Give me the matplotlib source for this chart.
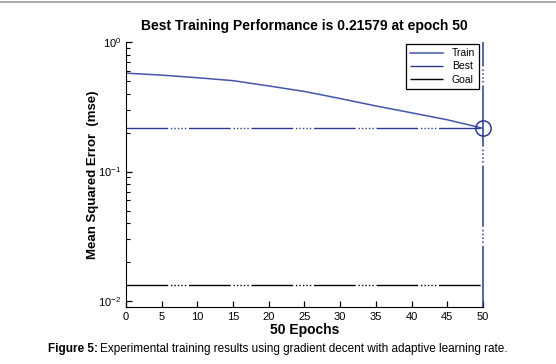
import matplotlib
matplotlib.use("Agg")
import matplotlib.pyplot as plt
from matplotlib.ticker import LogLocator, NullFormatter

plt.rcParams['font.family'] = ['Liberation Sans', 'DejaVu Sans']

# data
epochs = [0, 5, 10, 15, 20, 25, 30, 35, 40, 45, 50]
train_mse = [0.575, 0.555, 0.530, 0.503, 0.458, 0.415, 0.366, 0.321, 0.284, 0.251, 0.21579]
best_epoch = 50
best_mse = 0.21579
goal_mse = 0.0133
xticks = [0, 5, 10, 15, 20, 25, 30, 35, 40, 45, 50]

train_col = "#4456a8"
best_col = "#2b3990"
dashdot = (0, (30, 2, 1, 1.5, 1, 1.5, 1, 1.5, 1, 1.5, 1, 2))

fig = plt.figure(figsize=(5.56, 3.64), dpi=100)
ax = fig.add_axes([0.2266, 0.1566, 0.642, 0.728])

ax.semilogy(epochs, train_mse, color=train_col, lw=1.1, label="Train")
ax.axhline(best_mse, color=best_col, lw=1.0, ls=dashdot, label="Best")
ax.axhline(goal_mse, color="black", lw=1.0, ls=dashdot, label="Goal")
ax.axvline(best_epoch, color=best_col, lw=1.1, ls=(0, (40, 2, 1, 1.5, 1, 1.5, 1, 1.5, 1, 2)),
           clip_on=False)
ax.plot([best_epoch], [best_mse], marker="o", ms=11, mfc="none", mec=best_col, mew=1.1,
        clip_on=False)

ax.set_xlim(0, 50)
ax.set_ylim(0.009, 1.0)
ax.set_xticks(xticks)
ax.yaxis.set_major_locator(LogLocator(base=10))
ax.yaxis.set_minor_locator(LogLocator(base=10, subs=range(2, 10)))
ax.yaxis.set_minor_formatter(NullFormatter())

ax.spines['top'].set_visible(False)
ax.spines['right'].set_visible(False)
ax.tick_params(direction="in", labelsize=8, length=4, width=0.9)
ax.tick_params(which="minor", direction="in", length=3, width=0.8)

ax.set_title("Best Training Performance is 0.21579 at epoch 50",
             fontsize=10, fontweight="bold", pad=9)
ax.set_xlabel("50 Epochs", fontsize=10, fontweight="bold", labelpad=1)
ax.set_ylabel("Mean Squared Error  (mse)", fontsize=9.5, fontweight="bold", labelpad=-1)

leg = ax.legend(loc="upper right", fontsize=7.5, fancybox=False, framealpha=1,
                edgecolor="black", handlelength=3.2, borderaxespad=0.2,
                labelspacing=0.3, bbox_to_anchor=(0.995, 1.0))
leg.get_frame().set_linewidth(0.9)

# gray rule at the top of the page
fig.add_artist(plt.Line2D([0, 1], [0.994, 0.994], color="#999999", lw=1.2))

fig.text(0.086, 0.033, "Figure 5:", fontsize=8.5, fontweight="bold", va="baseline")
fig.text(0.180, 0.033, "Experimental training results using gradient decent with adaptive learning rate.",
         fontsize=8.5, va="baseline")

fig.savefig("out.png", dpi=100)
